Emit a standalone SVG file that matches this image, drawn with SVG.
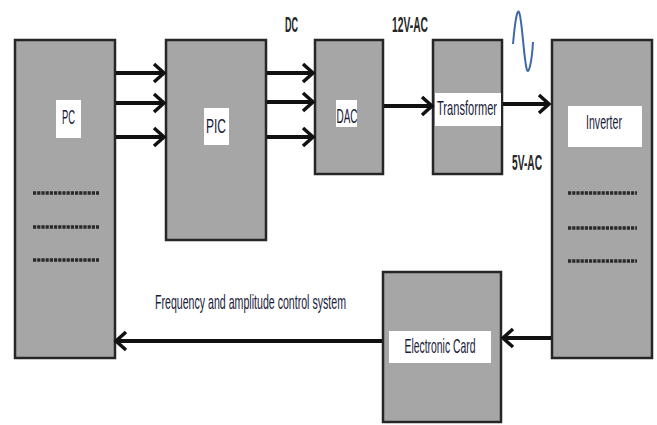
<svg xmlns="http://www.w3.org/2000/svg" width="657" height="425" viewBox="0 0 657 425">
  <style>
    .box { fill: #a6a6a6; stroke: #262626; stroke-width: 2.5; }
    .lbl { fill: #ffffff; }
    .t { font-family: "Liberation Sans", Arial, sans-serif; font-size: 21px; fill: #1a1a3a; text-anchor: middle; }
    .b { font-family: "Liberation Sans", Arial, sans-serif; font-size: 22px; font-weight: bold; fill: #262626; text-anchor: middle; }
    .dots { stroke: #2a2a2a; stroke-width: 3.5; stroke-dasharray: 3.2 1; }
    .conn { stroke: #111; stroke-width: 4; fill: none; marker-end: url(#arr); }
  </style>
  <defs>
    <marker id="arr" markerUnits="userSpaceOnUse" markerWidth="16" markerHeight="24" viewBox="0 0 16 24" refX="13" refY="12" orient="auto">
      <path d="M3,3 L13,12 L3,21" fill="none" stroke="#111" stroke-width="3.5" stroke-linejoin="miter"/>
    </marker>
  </defs>
  <rect width="657" height="425" fill="#ffffff"/>

  <g id="PC">
    <rect class="box" x="15" y="40" width="100" height="318"/>
    <rect class="lbl" x="56" y="100" width="25" height="38"/>
    <text class="t" x="68.5" y="124" textLength="13" lengthAdjust="spacingAndGlyphs">PC</text>
    <line class="dots" x1="33" y1="193" x2="99" y2="193"/>
    <line class="dots" x1="33" y1="227" x2="99" y2="227"/>
    <line class="dots" x1="33" y1="260" x2="99" y2="260"/>
  </g>

  <g id="PIC">
    <rect class="box" x="166" y="40" width="100" height="200"/>
    <rect class="lbl" x="204" y="108" width="25" height="37"/>
    <text class="t" x="216" y="133" textLength="20" lengthAdjust="spacingAndGlyphs">PIC</text>
  </g>

  <g id="DAC">
    <rect class="box" x="315" y="40" width="68" height="134"/>
    <rect class="lbl" x="336" y="100" width="21" height="27"/>
    <text class="t" x="347" y="123" textLength="21" lengthAdjust="spacingAndGlyphs">DAC</text>
  </g>

  <g id="Transformer">
    <rect class="box" x="433" y="40" width="69" height="134"/>
    <rect class="lbl" x="435" y="93" width="66" height="33"/>
    <text class="t" x="467" y="115" textLength="60" lengthAdjust="spacingAndGlyphs">Transformer</text>
  </g>

  <g id="Inverter">
    <rect class="box" x="552" y="40" width="100" height="318"/>
    <rect class="lbl" x="568" y="106" width="74" height="41"/>
    <text class="t" x="604" y="129" textLength="36" lengthAdjust="spacingAndGlyphs">Inverter</text>
    <line class="dots" x1="568" y1="193" x2="637" y2="193"/>
    <line class="dots" x1="568" y1="228" x2="637" y2="228"/>
    <line class="dots" x1="568" y1="261" x2="637" y2="261"/>
  </g>

  <g id="ElectronicCard">
    <rect class="box" x="383" y="272" width="118" height="150"/>
    <rect class="lbl" x="389" y="331" width="102" height="32"/>
    <text class="t" x="440" y="353" textLength="71" lengthAdjust="spacingAndGlyphs">Electronic Card</text>
  </g>

  <g id="connectors">
    <line class="conn" x1="116" y1="73" x2="164" y2="73"/>
    <line class="conn" x1="116" y1="103" x2="164" y2="103"/>
    <line class="conn" x1="116" y1="137" x2="164" y2="137"/>
    <line class="conn" x1="267" y1="73" x2="313" y2="73"/>
    <line class="conn" x1="267" y1="102" x2="313" y2="102"/>
    <line class="conn" x1="267" y1="137" x2="313" y2="137"/>
    <line class="conn" x1="384" y1="106" x2="432" y2="106"/>
    <line class="conn" x1="503" y1="104" x2="549" y2="104"/>
    <line class="conn" x1="551" y1="338" x2="503" y2="338"/>
    <line class="conn" x1="382" y1="341" x2="116" y2="341"/>
  </g>

  <g id="labels">
    <text class="b" x="291.5" y="32" textLength="13" lengthAdjust="spacingAndGlyphs">DC</text>
    <text class="b" x="410" y="32" textLength="36" lengthAdjust="spacingAndGlyphs">12V-AC</text>
    <text class="b" x="527" y="170" textLength="30" lengthAdjust="spacingAndGlyphs">5V-AC</text>
    <text class="t" x="250.5" y="309" font-size="19" textLength="191" lengthAdjust="spacingAndGlyphs">Frequency and amplitude control system</text>
    <path d="M513,44 C515,22 517,9 519,12 C522,17 524,62 527,70 C529,75 532,60 533,42" fill="none" stroke="#3e68a8" stroke-width="2"/>
  </g>
</svg>
